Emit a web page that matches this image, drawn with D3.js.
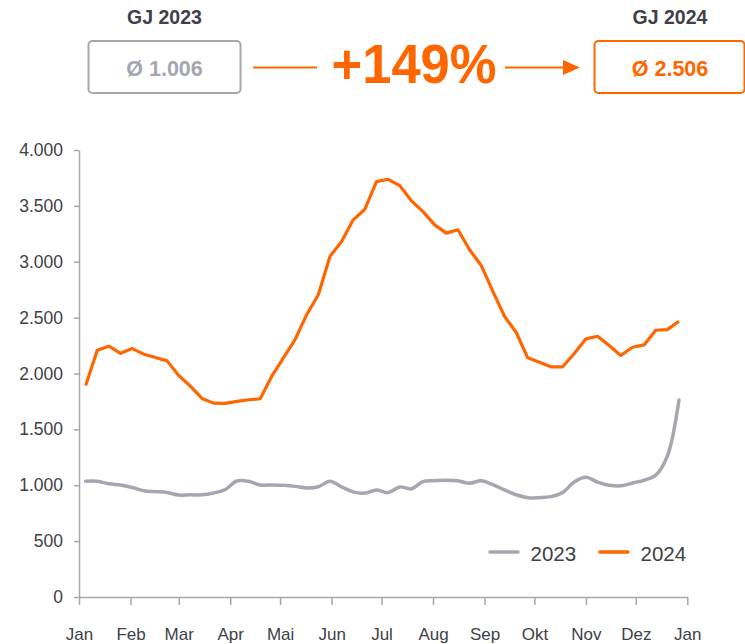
<!DOCTYPE html>
<html>
<head>
<meta charset="utf-8">
<script src="https://cdn.jsdelivr.net/npm/d3@7"></script>
<style>
  html, body { margin: 0; padding: 0; background: #ffffff; }
  svg { display: block; font-family: "Liberation Sans", Arial, sans-serif; }
</style>
</head>
<body>
<svg id="chart" width="745" height="644"></svg>
<script>
// ---------- data ----------
const weekDates = [
  "2024-01-05","2024-01-12","2024-01-19","2024-01-26",
  "2024-02-02","2024-02-09","2024-02-16","2024-02-23",
  "2024-03-01","2024-03-08","2024-03-15","2024-03-22","2024-03-29",
  "2024-04-05","2024-04-12","2024-04-19","2024-04-26",
  "2024-05-03","2024-05-10","2024-05-17","2024-05-24","2024-05-31",
  "2024-06-07","2024-06-14","2024-06-21","2024-06-28",
  "2024-07-05","2024-07-12","2024-07-19","2024-07-26",
  "2024-08-02","2024-08-09","2024-08-16","2024-08-23","2024-08-30",
  "2024-09-06","2024-09-13","2024-09-20","2024-09-27",
  "2024-10-04","2024-10-11","2024-10-18","2024-10-25",
  "2024-11-01","2024-11-08","2024-11-15","2024-11-22","2024-11-29",
  "2024-12-06","2024-12-13","2024-12-20","2024-12-27"
];
const values2023 = [
  1036, 1036, 1013, 1002, 980, 951, 943, 935, 912, 914,
  914, 931, 962, 1038, 1035, 1003, 1003, 999, 990, 976,
  987, 1035, 985, 941, 930, 958, 934, 985, 968, 1033,
  1040, 1045, 1040, 1018, 1040, 1005, 958, 915, 889, 889,
  898, 935, 1030, 1072, 1028, 1000, 995, 1020, 1045, 1090,
  1260, 1762
];
const values2024 = [
  1893, 2208, 2244, 2181, 2223, 2173, 2143, 2113, 1982, 1887,
  1777, 1735, 1732, 1750, 1765, 1774, 1976, 2140, 2304, 2527,
  2705, 3048, 3182, 3375, 3470, 3717, 3738, 3681, 3545, 3449,
  3330, 3256, 3286, 3107, 2967, 2735, 2512, 2369, 2140, 2101,
  2060, 2060, 2179, 2310, 2333, 2250, 2161, 2235, 2256, 2387,
  2393, 2467
];
const seriesNames = ["2023", "2024"];
const headerTitles = ["GJ 2023", "GJ 2024"];
const headerAverages = [1006, 2506];
const changeLabel = "+149%";
const monthLabels = ["Jan","Feb","Mar","Apr","Mai","Jun","Jul","Aug","Sep","Okt","Nov","Dez","Jan"];
const yTicks = [0, 500, 1000, 1500, 2000, 2500, 3000, 3500, 4000];

// ---------- styles ----------
const GRAY = "#A6A6B0";
const ORANGE = "#FF6600";
const TEXT = "#404048";

const de = d3.formatLocale({decimal: ",", thousands: ".", grouping: [3], currency: ["", " €"]});
const fmt = de.format(",");

const svg = d3.select("#chart");
const parse = d3.timeParse("%Y-%m-%d");
const dates = weekDates.map(parse);

// ---------- scales ----------
const x = d3.scaleTime()
  .domain([new Date(2024, 0, 1), new Date(2025, 0, 1)])
  .range([79, 687.3]);
const y = d3.scaleLinear().domain([0, 4000]).range([597, 150]);

// ---------- header ----------
const header = svg.append("g");
const boxes = [
  {x: 88.5, w: 152, color: GRAY, cx: 164.5},
  {x: 594.5, w: 150, color: ORANGE, cx: 670}
];
boxes.forEach((b, i) => {
  header.append("text")
    .attr("x", b.cx).attr("y", 24)
    .attr("text-anchor", "middle")
    .attr("font-size", 19.5).attr("font-weight", "bold")
    .attr("fill", TEXT)
    .text(headerTitles[i]);
  header.append("rect")
    .attr("x", b.x).attr("y", 41).attr("width", b.w).attr("height", 52)
    .attr("rx", 4).attr("ry", 4)
    .attr("fill", "none").attr("stroke", b.color).attr("stroke-width", 2);
  header.append("text")
    .attr("x", b.cx).attr("y", 75.5)
    .attr("text-anchor", "middle")
    .attr("font-size", 21.5).attr("font-weight", "bold")
    .attr("fill", b.color)
    .text("Ø " + fmt(headerAverages[i]));
});
header.append("line")
  .attr("x1", 253).attr("x2", 317).attr("y1", 67.5).attr("y2", 67.5)
  .attr("stroke", ORANGE).attr("stroke-width", 2);
header.append("text")
  .attr("x", 414).attr("y", 83)
  .attr("text-anchor", "middle")
  .attr("font-size", 55).attr("font-weight", "bold")
  .attr("fill", ORANGE)
  .attr("textLength", 165).attr("lengthAdjust", "spacingAndGlyphs")
  .text(changeLabel);
header.append("line")
  .attr("x1", 505).attr("x2", 566).attr("y1", 67.5).attr("y2", 67.5)
  .attr("stroke", ORANGE).attr("stroke-width", 2);
header.append("path")
  .attr("d", "M563,60 L580,67.5 L563,75 Z")
  .attr("fill", ORANGE);

// ---------- axes ----------
const yAxis = d3.axisLeft(y).tickValues(yTicks).tickFormat(fmt).tickSize(5).tickSizeOuter(0).tickPadding(11);
const gy = svg.append("g").attr("transform", "translate(79,0)").call(yAxis);
gy.selectAll("path, line").attr("stroke", GRAY).attr("stroke-width", 1.5);
gy.selectAll("text").attr("font-size", 17.5).attr("fill", TEXT)
  .attr("font-family", "'Liberation Sans', Arial, sans-serif");

const monthTicks = d3.timeMonth.range(new Date(2024, 0, 1), new Date(2025, 0, 2));
const xAxis = d3.axisBottom(x).tickValues(monthTicks)
  .tickFormat((d, i) => monthLabels[i]).tickSize(8).tickSizeOuter(0);
const gx = svg.append("g").attr("transform", "translate(0,597)").call(xAxis);
gx.selectAll("path, line").attr("stroke", GRAY).attr("stroke-width", 1.5);
gx.selectAll("text").attr("font-size", 17).attr("fill", TEXT)
  .attr("font-family", "'Liberation Sans', Arial, sans-serif")
  .attr("y", 43).attr("dy", 0);

// ---------- lines ----------
const line23 = d3.line().x((d, i) => x(dates[i])).y(d => y(d)).curve(d3.curveCatmullRom.alpha(0.5));
const line24 = d3.line().x((d, i) => x(dates[i])).y(d => y(d));

svg.append("path").datum(values2023)
  .attr("d", line23).attr("fill", "none")
  .attr("stroke", GRAY).attr("stroke-width", 3.5)
  .attr("stroke-linejoin", "round").attr("stroke-linecap", "round");
svg.append("path").datum(values2024)
  .attr("d", line24).attr("fill", "none")
  .attr("stroke", ORANGE).attr("stroke-width", 3.2)
  .attr("stroke-linejoin", "round").attr("stroke-linecap", "butt");

// ---------- legend ----------
const legend = svg.append("g");
const legendItems = [
  {x: 490, color: GRAY, name: seriesNames[0]},
  {x: 600, color: ORANGE, name: seriesNames[1]}
];
legendItems.forEach(it => {
  legend.append("line")
    .attr("x1", it.x).attr("x2", it.x + 28).attr("y1", 552).attr("y2", 552)
    .attr("stroke", it.color).attr("stroke-width", 3.5).attr("stroke-linecap", "round");
  legend.append("text")
    .attr("x", it.x + 40.5).attr("y", 560.5)
    .attr("font-size", 20.5).attr("fill", TEXT)
    .text(it.name);
});
</script>
</body>
</html>
